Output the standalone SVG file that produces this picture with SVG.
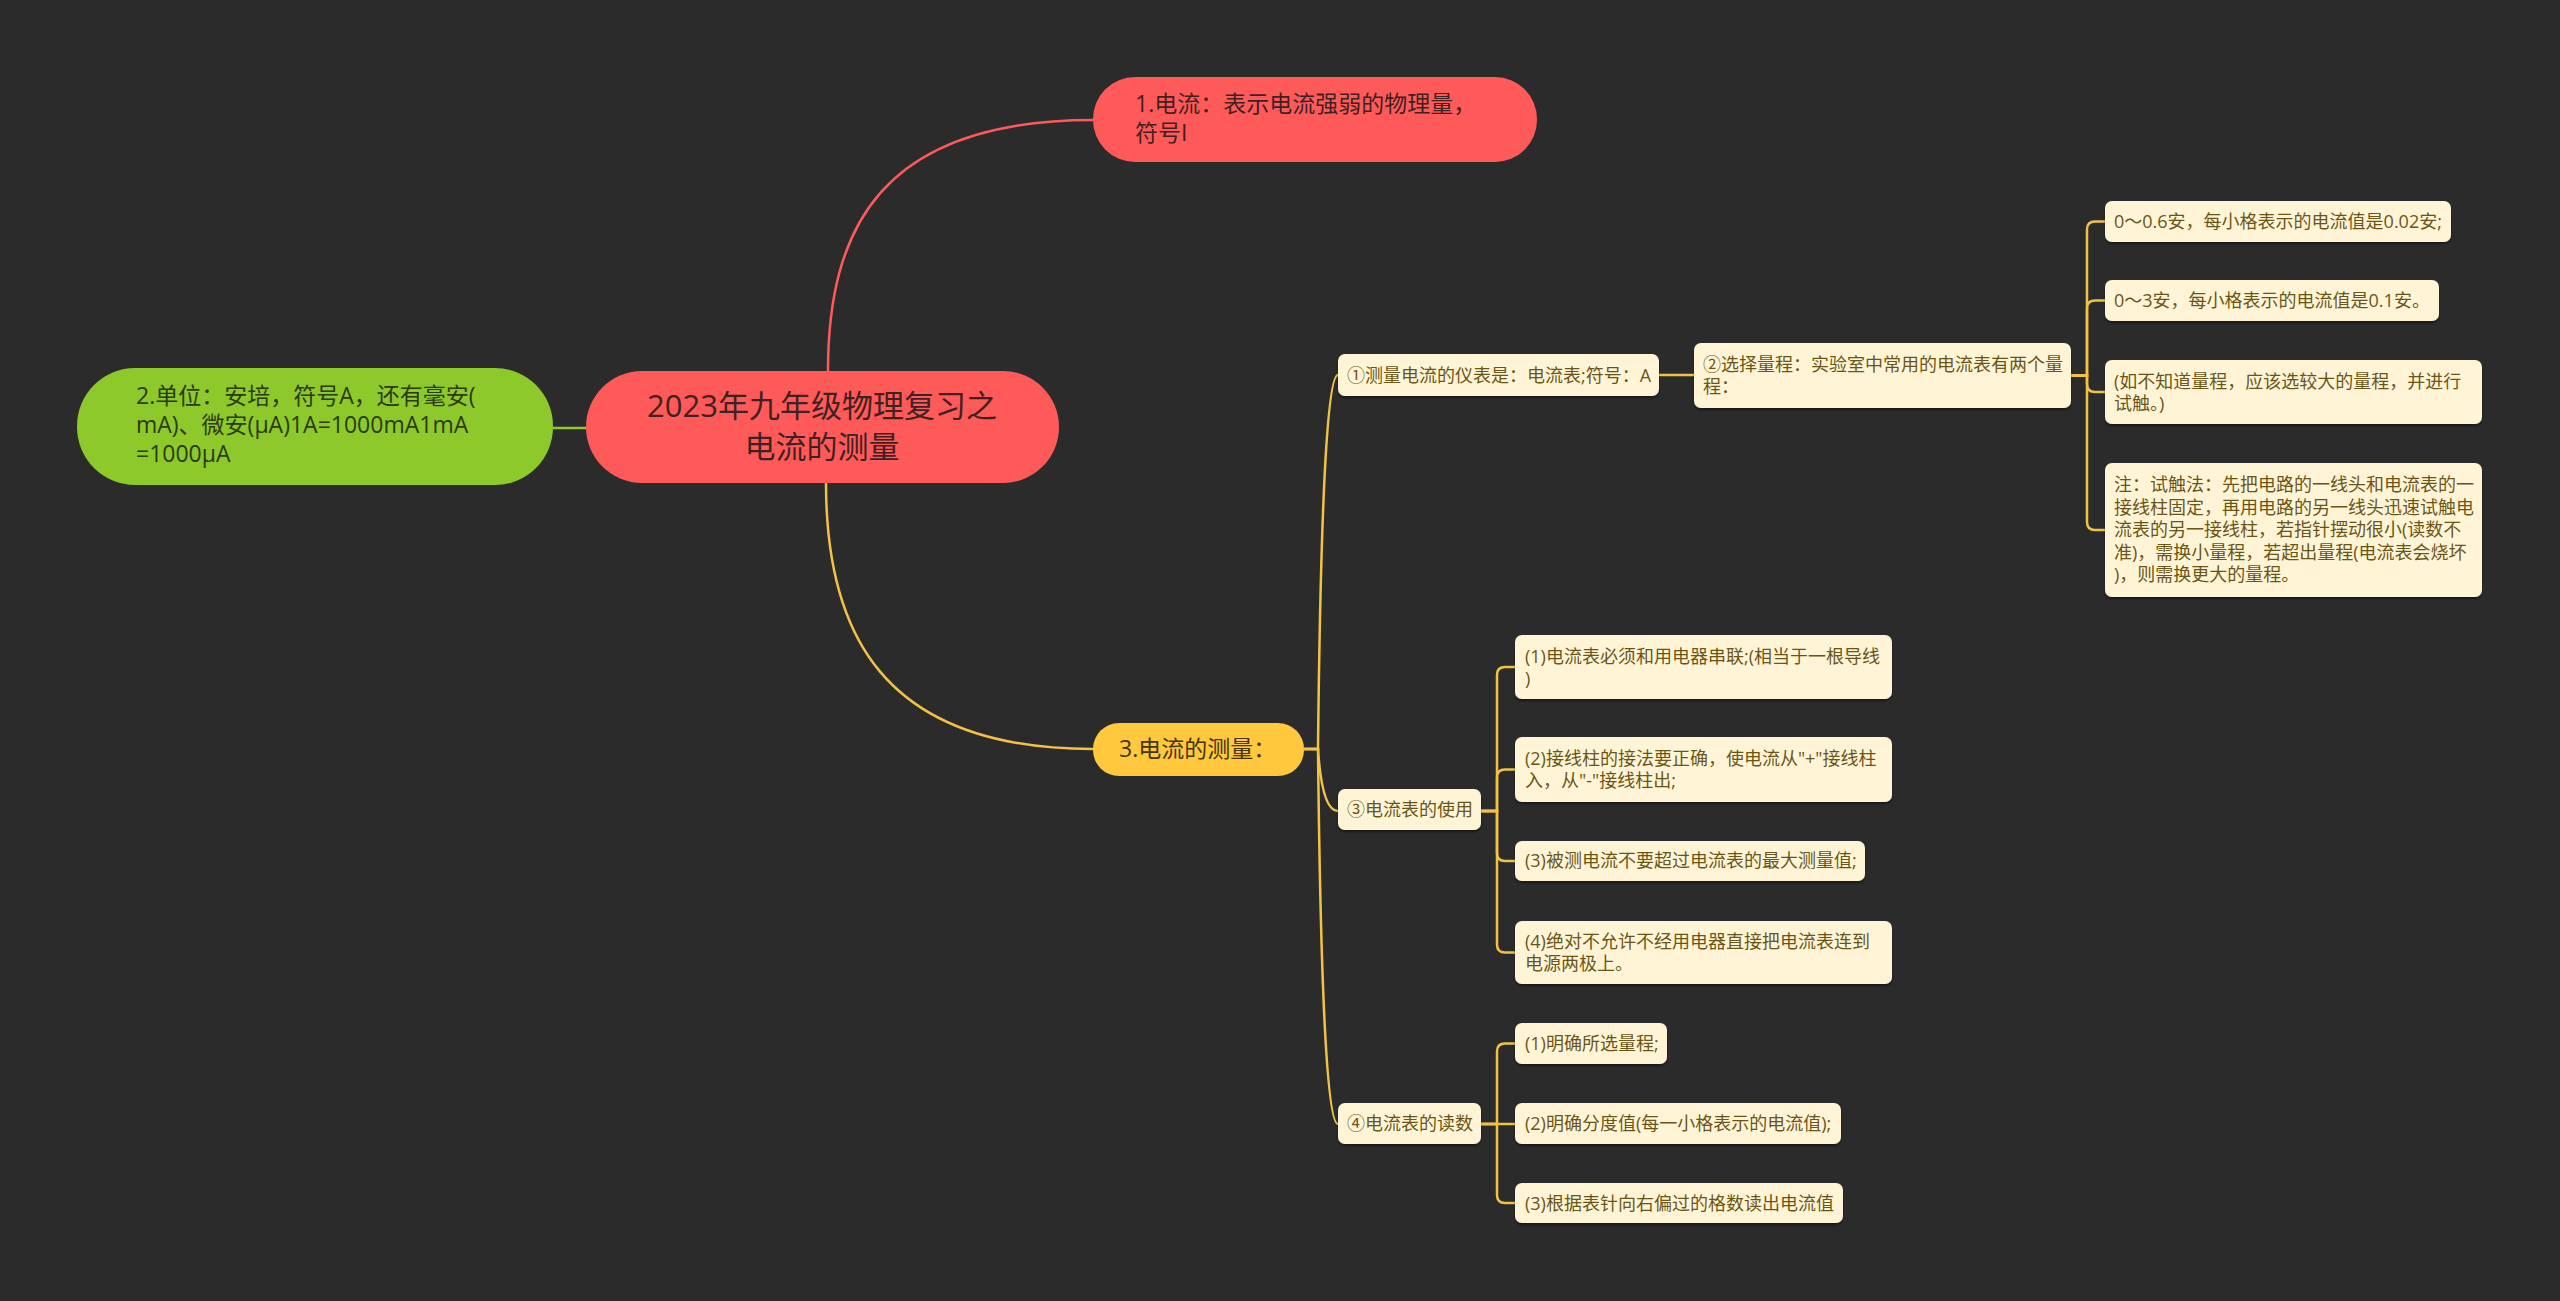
<svg xmlns="http://www.w3.org/2000/svg" width="2560" height="1301" viewBox="0 0 2560 1301">
<defs>
<style>
text{font-family:"Open Sans","Noto Sans CJK SC",sans-serif;}
.t30{font-size:31px;fill:#3f2121;}
.t22r{font-size:23px;fill:#3f2121;}
.t22g{font-size:23px;fill:#2c3a10;}
.t22y{font-size:23px;fill:#45340c;}
.t18{font-size:18px;fill:#6b5516;}
.leaf{fill:#fff5d6;filter:url(#sh);}
.cy{fill:none;stroke:#f2c245;stroke-width:2.5;}
</style>
<filter id="sh" x="-5%" y="-20%" width="110%" height="150%">
<feDropShadow dx="0" dy="2" stdDeviation="1" flood-color="#000" flood-opacity="0.45"/>
</filter>
</defs>
<rect x="0" y="0" width="2560" height="1301" fill="#2b2b2b"/>
<g id="connectors">
<path d="M828,371 C828,230 880,120 1093,120" fill="none" stroke="#ff5a5a" stroke-width="2.5"/>
<path d="M826,483 C826,630 880,749 1093,749" fill="none" stroke="#f2c245" stroke-width="2.5"/>
<path d="M586,428 H553" fill="none" stroke="#8dc92b" stroke-width="2.5"/>
<path class="cy" d="M1304,749 H1318 Q1322,375 1338,375"/>
<path class="cy" d="M1304,749 H1318 Q1322,811 1338,811"/>
<path class="cy" d="M1304,749 H1318 Q1322,1124 1338,1124"/>
<path class="cy" d="M1659,375 H1694"/>
<path class="cy" d="M2071,375.5 H2087 V229.5 Q2087,221.5 2095,221.5 H2105"/>
<path class="cy" d="M2071,375.5 H2087 V308.5 Q2087,300.5 2095,300.5 H2105"/>
<path class="cy" d="M2071,375.5 H2087 V384 Q2087,392 2095,392 H2105"/>
<path class="cy" d="M2071,375.5 H2087 V522 Q2087,530 2095,530 H2105"/>
<path class="cy" d="M1481,811 H1497 V675 Q1497,667 1505,667 H1515"/>
<path class="cy" d="M1481,811 H1497 V777.5 Q1497,769.5 1505,769.5 H1515"/>
<path class="cy" d="M1481,811 H1497 V853 Q1497,861 1505,861 H1515"/>
<path class="cy" d="M1481,811 H1497 V944.5 Q1497,952.5 1505,952.5 H1515"/>
<path class="cy" d="M1481,1124 H1497 V1051.5 Q1497,1043.5 1505,1043.5 H1515"/>
<path class="cy" d="M1481,1124 H1515"/>
<path class="cy" d="M1481,1124 H1497 V1195 Q1497,1203 1505,1203 H1515"/>
</g>
<g id="root">
<rect x="586" y="371" width="473" height="112" rx="56" fill="#ff5a5a"/>
<text class="t30" x="822" y="417" text-anchor="middle">2023年九年级物理复习之</text>
<text class="t30" x="822" y="458" text-anchor="middle">电流的测量</text>
</g>
<g id="n1">
<rect x="1093" y="77" width="444" height="85" rx="42" fill="#ff5a5a"/>
<text class="t22r" x="1135" y="112">1.电流：表示电流强弱的物理量，</text>
<text class="t22r" x="1135" y="141">符号I</text>
</g>
<g id="n2">
<rect x="77" y="368" width="476" height="117" rx="58" fill="#8dc92b"/>
<text class="t22g" x="136" y="404">2.单位：安培，符号A，还有毫安(</text>
<text class="t22g" x="136" y="433">mA)、微安(μA)1A=1000mA1mA</text>
<text class="t22g" x="136" y="462">=1000μA</text>
</g>
<g id="n3">
<rect x="1093" y="723" width="211" height="53" rx="26" fill="#ffc83d"/>
<text class="t22y" x="1119" y="757">3.电流的测量：</text>
</g>
<g id="n3a">
<rect class="leaf" x="1338" y="354" width="321" height="42" rx="7"/>
<text class="t18" x="1347" y="382">①测量电流的仪表是：电流表;符号：A</text>
</g>
<g id="n3a1">
<rect class="leaf" x="1694" y="343" width="377" height="65" rx="7"/>
<text class="t18" x="1703" y="371">②选择量程：实验室中常用的电流表有两个量</text>
<text class="t18" x="1703" y="393">程：</text>
</g>
<g id="r1">
<rect class="leaf" x="2105" y="201" width="346" height="41" rx="7"/>
<text class="t18" x="2114" y="228">0～0.6安，每小格表示的电流值是0.02安;</text>
</g>
<g id="r2">
<rect class="leaf" x="2105" y="280" width="334" height="41" rx="7"/>
<text class="t18" x="2114" y="307">0～3安，每小格表示的电流值是0.1安。</text>
</g>
<g id="r3">
<rect class="leaf" x="2105" y="360" width="377" height="64" rx="7"/>
<text class="t18" x="2114" y="388">(如不知道量程，应该选较大的量程，并进行</text>
<text class="t18" x="2114" y="410">试触。)</text>
</g>
<g id="r4">
<rect class="leaf" x="2105" y="463" width="377" height="134" rx="7"/>
<text class="t18" x="2114" y="491">注：试触法：先把电路的一线头和电流表的一</text>
<text class="t18" x="2114" y="514">接线柱固定，再用电路的另一线头迅速试触电</text>
<text class="t18" x="2114" y="536">流表的另一接线柱，若指针摆动很小(读数不</text>
<text class="t18" x="2114" y="559">准)，需换小量程，若超出量程(电流表会烧坏</text>
<text class="t18" x="2114" y="581">)，则需换更大的量程。</text>
</g>
<g id="n3b">
<rect class="leaf" x="1338" y="789" width="143" height="41" rx="7"/>
<text class="t18" x="1347" y="816">③电流表的使用</text>
</g>
<g id="u1">
<rect class="leaf" x="1515" y="635" width="377" height="64" rx="7"/>
<text class="t18" x="1525" y="663">(1)电流表必须和用电器串联;(相当于一根导线</text>
<text class="t18" x="1525" y="685">)</text>
</g>
<g id="u2">
<rect class="leaf" x="1515" y="737" width="377" height="65" rx="7"/>
<text class="t18" x="1525" y="765">(2)接线柱的接法要正确，使电流从"+"接线柱</text>
<text class="t18" x="1525" y="787">入，从"-"接线柱出;</text>
</g>
<g id="u3">
<rect class="leaf" x="1515" y="841" width="350" height="40" rx="7"/>
<text class="t18" x="1525" y="867">(3)被测电流不要超过电流表的最大测量值;</text>
</g>
<g id="u4">
<rect class="leaf" x="1515" y="921" width="377" height="63" rx="7"/>
<text class="t18" x="1525" y="948">(4)绝对不允许不经用电器直接把电流表连到</text>
<text class="t18" x="1525" y="970">电源两极上。</text>
</g>
<g id="n3c">
<rect class="leaf" x="1338" y="1103" width="143" height="41" rx="7"/>
<text class="t18" x="1347" y="1130">④电流表的读数</text>
</g>
<g id="d1">
<rect class="leaf" x="1515" y="1023" width="152" height="41" rx="7"/>
<text class="t18" x="1525" y="1050">(1)明确所选量程;</text>
</g>
<g id="d2">
<rect class="leaf" x="1515" y="1103" width="326" height="41" rx="7"/>
<text class="t18" x="1525" y="1130">(2)明确分度值(每一小格表示的电流值);</text>
</g>
<g id="d3">
<rect class="leaf" x="1515" y="1183" width="328" height="40" rx="7"/>
<text class="t18" x="1525" y="1210">(3)根据表针向右偏过的格数读出电流值</text>
</g>
</svg>
